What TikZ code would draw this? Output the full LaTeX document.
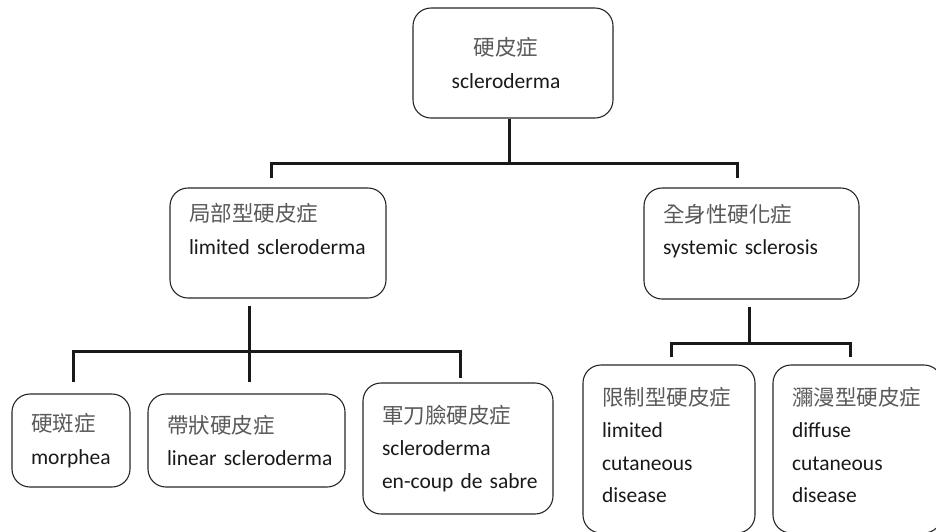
\documentclass[tikz,border=0pt]{standalone}
\usepackage{fontspec}
\setmainfont{Carlito}
\newfontfamily\cjk{Noto Sans CJK TC}
\usepackage{xcolor}
\usepackage{tikz}

% Chinese label text
\newcommand{\zhtext}[1]{{\cjk\color{black!65}#1}}

\begin{document}
\begin{tikzpicture}[x=1pt,y=-1pt,
    box/.style={draw=black!85, line width=1.1pt, rounded corners=18pt,
        inner xsep=19pt, inner ysep=0pt, align=left,
        font=\fontsize{21.5}{32.5}\selectfont, text=black!90},
    link/.style={line width=3pt, black!90}]

            % Define the picture frame
            \useasboundingbox (0,0) rectangle (936,531);
            \clip (0,0) rectangle (936,531);

            % Define the root box
            \node[box, align=center, minimum width=200pt, minimum height=110pt] (root) at (513,63)
                {\zhtext{硬皮症}\hspace*{14pt}\\scleroderma\hspace*{14pt}};

            % Define the two main forms
            \node[box, text width=178pt, minimum height=110pt] (local) at (278,243)
                {\zhtext{局部型硬皮症}\\\mbox{limited scleroderma}\\[-4pt]\mbox{}};
            \node[box, text width=177pt, minimum height=111pt] (sys) at (751.5,243.5)
                {\zhtext{全身性硬化症}\\\mbox{systemic sclerosis}\\[-4pt]\mbox{}};

            % Define the localized subtypes
            \node[box, text width=80pt, minimum height=93pt] (morph) at (71,440.5)
                {\zhtext{硬斑症}\\morphea};
            \node[box, text width=159pt, minimum height=93pt] (linear) at (246.5,440.5)
                {\zhtext{帶狀硬皮症}\\\mbox{linear scleroderma}};
            \node[box, text width=152pt, minimum height=131pt] (sabre) at (458,448.5)
                {\zhtext{軍刀臉硬皮症}\\scleroderma\\\mbox{en-coup de sabre}};

            % Define the systemic subtypes
            \node[box, text width=134pt, minimum height=168pt] (limc) at (669,449)
                {\zhtext{限制型硬皮症}\\limited\\cutaneous\\disease\\[-24pt]\mbox{}};
            \node[box, text width=131pt, minimum height=168pt] (diff) at (857.5,449)
                {\zhtext{瀰漫型硬皮症}\\diffuse\\cutaneous\\disease\\[-24pt]\mbox{}};

            % Add the first branching
            \coordinate (j1) at (509,163);
            \draw[link] ([xshift=-4pt]root.south) -- (j1);
            \draw[link] ([xshift=-7pt,yshift=9pt]local.north) |- (j1) -| ([xshift=-14pt,yshift=9pt]sys.north);

            % Add the localized branching
            \coordinate (j2) at (249,351);
            \draw[link] ([xshift=-29pt,yshift=-7pt]local.south) -- ([xshift=2.5pt,yshift=11pt]linear.north);
            \draw[link] ([xshift=2pt,yshift=11pt]morph.north) |- (j2) -| ([xshift=2pt,yshift=4pt]sabre.north);

            % Add the systemic branching
            \coordinate (j3) at (749,343);
            \draw[link] ([xshift=-2.5pt,yshift=-7pt]sys.south) -- (j3);
            \draw[link] ([xshift=2pt,yshift=7pt]limc.north) |- (j3) -| ([xshift=-7.5pt,yshift=7pt]diff.north);

        \end{tikzpicture}
\end{document}
